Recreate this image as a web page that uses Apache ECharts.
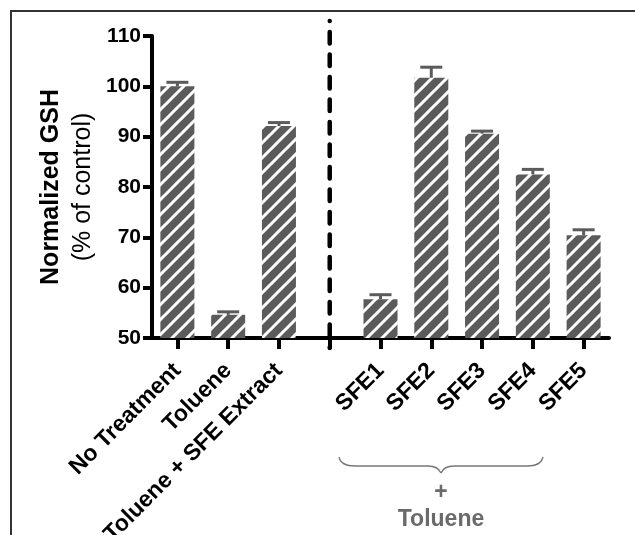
<!DOCTYPE html>
<html>
<head>
<meta charset="utf-8">
<script src="https://cdn.jsdelivr.net/npm/echarts@6/dist/echarts.min.js"></script>
<style>
html,body{margin:0;padding:0;background:#fff;}
#c{width:635px;height:535px;}
</style>
</head>
<body>
<div id="c"></div>
<script>
const categories = ['No Treatment', 'Toluene', 'Toluene + SFE Extract', '', 'SFE1', 'SFE2', 'SFE3', 'SFE4', 'SFE5'];
const gshValues = [100.0, 54.6, 92.1, null, 57.7, 101.7, 90.6, 82.5, 70.4];
const gshErrorTop = [100.8, 55.2, 92.8, null, 58.6, 103.8, 91.1, 83.5, 71.5];
const yTicks = [50, 60, 70, 80, 90, 100, 110];
const separatorIndex = 3;
const separatorRange = [112.98, 48.0];

const FONT = '"Liberation Sans", Arial, Helvetica, sans-serif';
const BAR = '#5b5b5b';
const BRACE = '#777';

function stripePattern() {
  const s = 15;
  const c = document.createElement('canvas');
  c.width = s; c.height = s;
  const g = c.getContext('2d');
  g.fillStyle = BAR; g.fillRect(0, 0, s, s);
  g.strokeStyle = '#ffffff'; g.lineWidth = 3;
  g.beginPath();
  g.moveTo(-2, s + 2); g.lineTo(s + 2, -2);
  g.moveTo(-2, 2); g.lineTo(2, -2);
  g.moveTo(s - 2, s + 2); g.lineTo(s + 2, s - 2);
  g.stroke();
  return c;
}

const barData = gshValues.map(v => v == null ? '-' : v);
const errData = [];
gshValues.forEach((v, i) => { if (v != null) errData.push([i, v, gshErrorTop[i]]); });

function curve(x1, y1, cx, cy, x2, y2) {
  return {type: 'bezierCurve', shape: {x1: x1, y1: y1, cpx1: cx, cpy1: cy, x2: x2, y2: y2}, style: {fill: 'none', stroke: BRACE, lineWidth: 1.3}, silent: true};
}
function seg(x1, y1, x2, y2) {
  return {type: 'line', shape: {x1: x1, y1: y1, x2: x2, y2: y2}, style: {stroke: BRACE, lineWidth: 1.3}, silent: true};
}

const chart = echarts.init(document.getElementById('c'), null, {renderer: 'canvas'});
chart.setOption({
  animation: false,
  backgroundColor: '#ffffff',
  grid: {left: 152, right: 26, top: 36, bottom: 197, containLabel: false, outerBoundsMode: 'none'},
  xAxis: {
    type: 'category',
    data: categories,
    boundaryGap: true,
    axisLine: {show: true, lineStyle: {color: '#000', width: 4}},
    axisTick: {show: true, alignWithLabel: true, interval: 0, length: 11, lineStyle: {color: '#000', width: 4}},
    axisLabel: {interval: 0, rotate: 45, margin: 29, color: '#000', fontFamily: FONT, fontWeight: 'bold', fontSize: 23},
    splitLine: {show: false}
  },
  yAxis: {
    type: 'value',
    min: yTicks[0], max: yTicks[yTicks.length - 1], interval: 10,
    axisLine: {show: true, lineStyle: {color: '#000', width: 4}},
    axisTick: {show: true, length: 9, lineStyle: {color: '#000', width: 4}},
    axisLabel: {margin: 11, color: '#000', fontFamily: FONT, fontWeight: 'bold', fontSize: 21},
    splitLine: {show: false}
  },
  series: [
    {
      type: 'bar',
      data: barData,
      barWidth: 34,
      itemStyle: {color: {image: stripePattern(), repeat: 'repeat'}},
      z: 2
    },
    {
      type: 'custom',
      data: errData,
      z: 3,
      renderItem: function (params, api) {
        const x = api.value(0), v = api.value(1), e = api.value(2);
        const p0 = api.coord([x, v]);
        const p1 = api.coord([x, e]);
        const half = 11;
        return {
          type: 'group',
          children: [
            {type: 'line', shape: {x1: p0[0], y1: p0[1], x2: p1[0], y2: p1[1]}, style: {stroke: BAR, lineWidth: 3}},
            {type: 'line', shape: {x1: p1[0] - half, y1: p1[1], x2: p1[0] + half, y2: p1[1]}, style: {stroke: BAR, lineWidth: 3}}
          ]
        };
      }
    },
    {
      type: 'line',
      data: [[separatorIndex, separatorRange[0]], [separatorIndex, separatorRange[1]]],
      clip: false,
      symbol: 'none',
      showSymbol: false,
      silent: true,
      z: 4,
      lineStyle: {color: '#000', width: 4.5, type: [11.5, 11], dashOffset: 11.4, cap: 'round'}
    }
  ],
  graphic: [
    {type: 'rect', shape: {x: 11, y: 11, width: 700, height: 600}, style: {fill: 'none', stroke: '#333', lineWidth: 2}, silent: true},
    {type: 'text', x: 51, y: 187, rotation: Math.PI / 2, style: {text: 'Normalized GSH', fill: '#000', font: 'bold 25px ' + FONT, textAlign: 'center', textVerticalAlign: 'middle'}},
    {type: 'text', x: 83, y: 187, rotation: Math.PI / 2, style: {text: '(% of control)', fill: '#000', font: '25px ' + FONT, textAlign: 'center', textVerticalAlign: 'middle'}},
    curve(339, 457, 341, 466, 355, 466),
    seg(355, 466, 428, 466),
    curve(428, 466, 438, 466, 441, 473),
    curve(441, 473, 444, 466, 454, 466),
    seg(454, 466, 527, 466),
    curve(527, 466, 541, 466, 543, 457),
    {type: 'text', x: 441, y: 493, style: {text: '+', fill: '#6a6a6a', font: 'bold 23px ' + FONT, textAlign: 'center', textVerticalAlign: 'middle'}},
    {type: 'text', x: 441, y: 520, style: {text: 'Toluene', fill: '#6a6a6a', font: 'bold 23px ' + FONT, textAlign: 'center', textVerticalAlign: 'middle'}}
  ]
});
</script>
</body>
</html>
